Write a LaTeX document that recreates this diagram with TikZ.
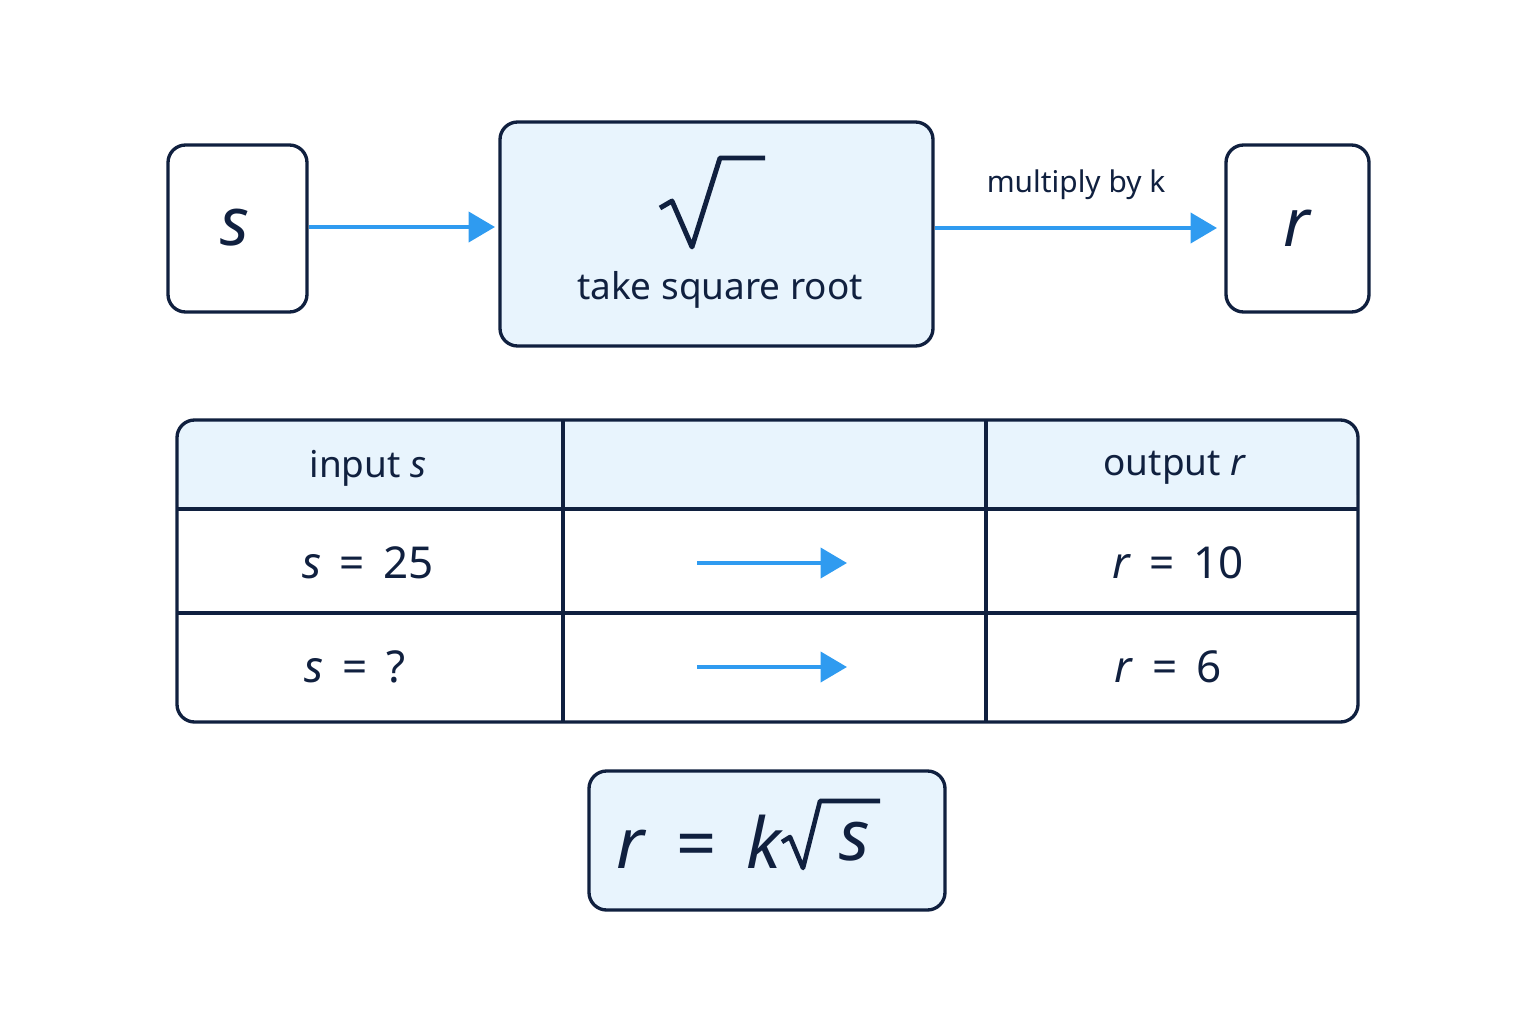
\documentclass[tikz,border=0pt]{standalone}
\usepackage{fontspec}
\setmainfont{Noto Sans}
\usetikzlibrary{arrows.meta,positioning}
\definecolor{navy}{HTML}{10203F}
\definecolor{flow}{HTML}{2F9BF0}
\definecolor{pale}{HTML}{E8F4FD}
\tikzset{
  box/.style={draw=navy,line width=0.95pt,rounded corners=5pt},
  flowarrow/.style={draw=flow,line width=1.2pt,-{Triangle[length=7.5pt,width=8.5pt]}},
  txt/.style={text=navy,font=\fontsize{10.5}{12}\selectfont}
}
\begin{document}
\begin{tikzpicture}[x=0.01cm,y=-0.01cm]
		\useasboundingbox (0,0) rectangle (1536,1024);
		% top row
		\draw[box] (168,145) rectangle (307,312);
		\node[txt,font=\fontsize{19}{21}\selectfont\itshape] (s) at (235,228) {s};
		\draw[box,fill=pale] (500,122) rectangle (933,346);
		\draw[navy,line width=1.4pt,line join=round] (660,208)--(672,201)--(692,247)--(720,158)--(765,158);
		\node[txt] (root) at (720,290) {take square root};
		\draw[box] (1226,145) rectangle (1369,312);
		\node[txt,font=\fontsize{19}{21}\selectfont\itshape] (r) at (1297,228) {r};
		\coordinate (sE) at (309,227);
		\coordinate (rootW) at (495,227);
		\coordinate (rootE) at (935,228);
		\coordinate (rW) at (1217,228);
		\draw[flowarrow] (sE) -- (rootW);
		\draw[flowarrow] (rootE) -- node[above=4pt,txt,font=\fontsize{8.5}{10}\selectfont] {multiply by k} (rW);
		% table
		\fill[pale,rounded corners=5pt] (177,420) rectangle (1358,509);
		\fill[white] (177,495) rectangle (1358,509);
		\fill[pale] (179,480) rectangle (1356,509);
		\draw[box] (177,420) rectangle (1358,722);
		\foreach \y in {509,613}
		\draw[navy,line width=0.95pt] (177,\y) -- (1358,\y);
		\foreach \x in {563,986}
		\draw[navy,line width=0.95pt] (\x,420) -- (\x,722);
		\node[txt] (hin) at (368,468) {input \textit{s}};
		\node[txt] (hout) at (1175,468) {output \textit{r}};
		\node[txt,font=\fontsize{12.5}{14}\selectfont] (in1) at (368,563) {\textit{s}\, = \,25};
		\node[txt,font=\fontsize{12.5}{14}\selectfont] (out1) at (1178,563) {\textit{r}\, = \,10};
		\node[txt,font=\fontsize{12.5}{14}\selectfont] (in2) at (355,667) {\textit{s}\, = \,?};
		\node[txt,font=\fontsize{12.5}{14}\selectfont] (out2) at (1168,667) {\textit{r}\, = \,6};
		\foreach \y/\n in {563/a,667/b} {
		\coordinate (\n1) at (697,\y);
		\coordinate (\n2) at (847,\y);
		\draw[flowarrow] (\n1) -- (\n2);
		}
		% formula
		\draw[box,fill=pale] (589,771) rectangle (945,910);
		\node[txt,font=\fontsize{20}{22}\selectfont] (law) at (700,842) {\textit{r}\, = \,\textit{k}};
		\node[txt,font=\fontsize{20}{22}\selectfont\itshape] (lawS) at (855,842) {s};
		\draw[navy,line width=1.3pt,line join=round] (782,842)--(790,837)--(803,868)--(820,801)--(880,801);
\end{tikzpicture}
\end{document}
